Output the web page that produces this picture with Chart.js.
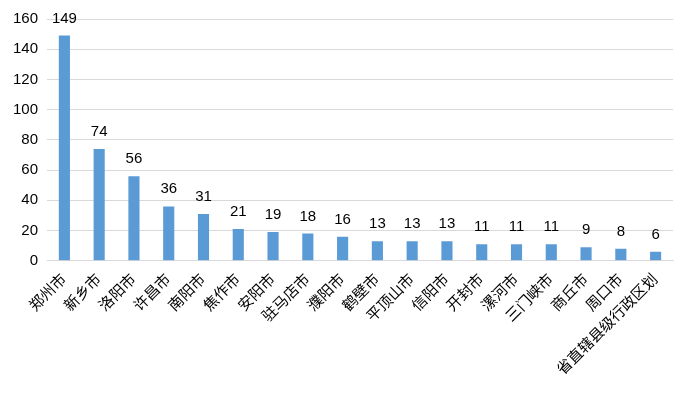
<!DOCTYPE html>
<html>
<head>
<meta charset="utf-8">
<script src="https://cdn.jsdelivr.net/npm/chart.js@4"></script>
<style>
  html, body { margin: 0; padding: 0; background: #fff; }
  #wrap { width: 692px; height: 397px; position: relative; }
</style>
</head>
<body>
<div id="wrap"><canvas id="c"></canvas></div>
<script>
const cities = ['郑州市', '新乡市', '洛阳市', '许昌市', '南阳市', '焦作市', '安阳市', '驻马店市', '濮阳市',
  '鹤壁市', '平顶山市', '信阳市', '开封市', '漯河市', '三门峡市', '商丘市', '周口市', '省直辖县级行政区划']
const counts = [149, 74, 56, 36, 31, 21, 19, 18, 16, 13, 13, 13, 11, 11, 11, 9, 8, 6]
const yTicks = [0, 20, 40, 60, 80, 100, 120, 140, 160]

const fontFamily = '"Liberation Sans", "Noto Sans CJK SC", sans-serif'
const gridColor = '#d9d9d9'

// draw the value above each bar
const valueLabels = {
  id: 'valueLabels',
  afterDatasetsDraw: (chart) => {
    const ctx = chart.ctx
    ctx.save()
    ctx.fillStyle = '#000'
    ctx.font = '15px ' + fontFamily
    ctx.textAlign = 'center'
    ctx.textBaseline = 'alphabetic'
    chart.getDatasetMeta(0).data.forEach((bar, i) => {
      ctx.fillText(counts[i], bar.x, bar.y - 13)
    })
    ctx.restore()
  }
}

new Chart(document.getElementById('c'), {
  type: 'bar',
  data: {
    labels: cities,
    datasets: [{
      data: counts,
      backgroundColor: '#5b9bd5',
      barPercentage: 0.32,
      categoryPercentage: 1
    }]
  },
  options: {
    responsive: true,
    maintainAspectRatio: false,
    animation: false,
    layout: { padding: { top: 19, right: 19, bottom: 16, left: 3 } },
    plugins: {
      legend: { display: false },
      tooltip: { enabled: false }
    },
    scales: {
      x: {
        grid: { display: false },
        border: { color: gridColor, width: 1 },
        ticks: {
          color: '#000',
          font: { family: fontFamily, size: 15 },
          minRotation: 45,
          maxRotation: 45,
          autoSkip: false,
          padding: 2
        }
      },
      y: {
        min: 0,
        max: 160,
        afterBuildTicks: (axis) => { axis.ticks = yTicks.map(v => ({ value: v })) },
        afterFit: (axis) => { axis.width = 44 },
        grid: { color: gridColor, drawTicks: false },
        border: { display: false },
        ticks: {
          color: '#000',
          font: { family: fontFamily, size: 15 },
          padding: 9
        }
      }
    }
  },
  plugins: [valueLabels]
})
</script>
</body>
</html>
